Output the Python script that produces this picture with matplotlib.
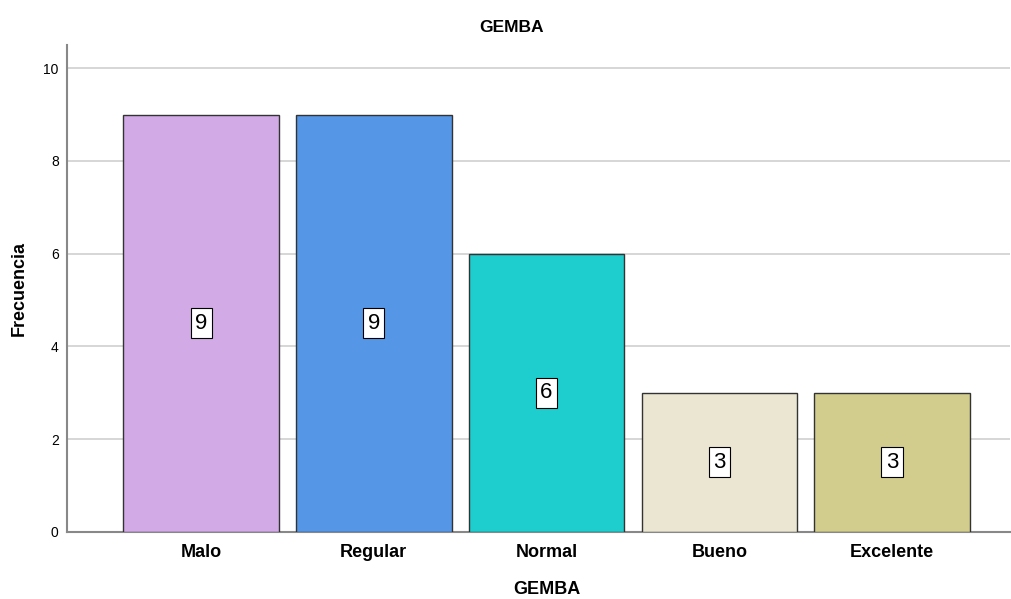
import matplotlib
matplotlib.use('Agg')
import matplotlib.pyplot as plt

plt.rcParams['font.family'] = ['Liberation Sans', 'DejaVu Sans']

categorias = ['Malo', 'Regular', 'Normal', 'Bueno', 'Excelente']
frecuencias = [9, 9, 6, 3, 3]
colores = ['#D2AAE6', '#5596E6', '#1ECDCD', '#EBE6D2', '#D2CD8C']

fig = plt.figure(figsize=(10.11, 5.99), dpi=100)
ax = fig.add_axes([0.0663, 0.1119, 0.9327, 0.813])

x = list(range(len(categorias)))
ax.bar(x, frecuencias, width=0.9, color=colores, edgecolor='#333333', linewidth=1, zorder=3)

for i, v in zip(x, frecuencias):  # etiqueta en la mitad de cada barra
    ax.text(i, v / 2, str(v), ha='center', va='center', fontsize=16, zorder=4,
            bbox=dict(facecolor='white', edgecolor='black', linewidth=0.8,
                      boxstyle='square,pad=0.2'))

ax.set_xlim(-0.776, 4.683)
ax.set_ylim(0, 10.5)
ax.set_yticks([0, 2, 4, 6, 8, 10])
ax.set_xticks(x)
ax.set_xticklabels(categorias, fontsize=13, fontweight='bold')
ax.tick_params(axis='both', length=0)
ax.tick_params(axis='y', labelsize=10, pad=6)
ax.tick_params(axis='x', pad=9)
ax.grid(axis='y', color='#d0d0d0', linewidth=1.2, zorder=0)
for s in ['top', 'right']:
    ax.spines[s].set_visible(False)
for s in ['left', 'bottom']:
    ax.spines[s].set_color('#888888')
    ax.spines[s].set_linewidth(1.5)

fig.text(512 / 1011, 1 - 28 / 599, 'GEMBA', ha='center', va='center', fontsize=12.5, fontweight='bold')
fig.text(547 / 1011, 1 - 590 / 599, 'GEMBA', ha='center', va='center', fontsize=13, fontweight='bold')
ax.set_ylabel('Frecuencia', fontsize=13, fontweight='bold', labelpad=11)

fig.savefig('out.png', dpi=100)
